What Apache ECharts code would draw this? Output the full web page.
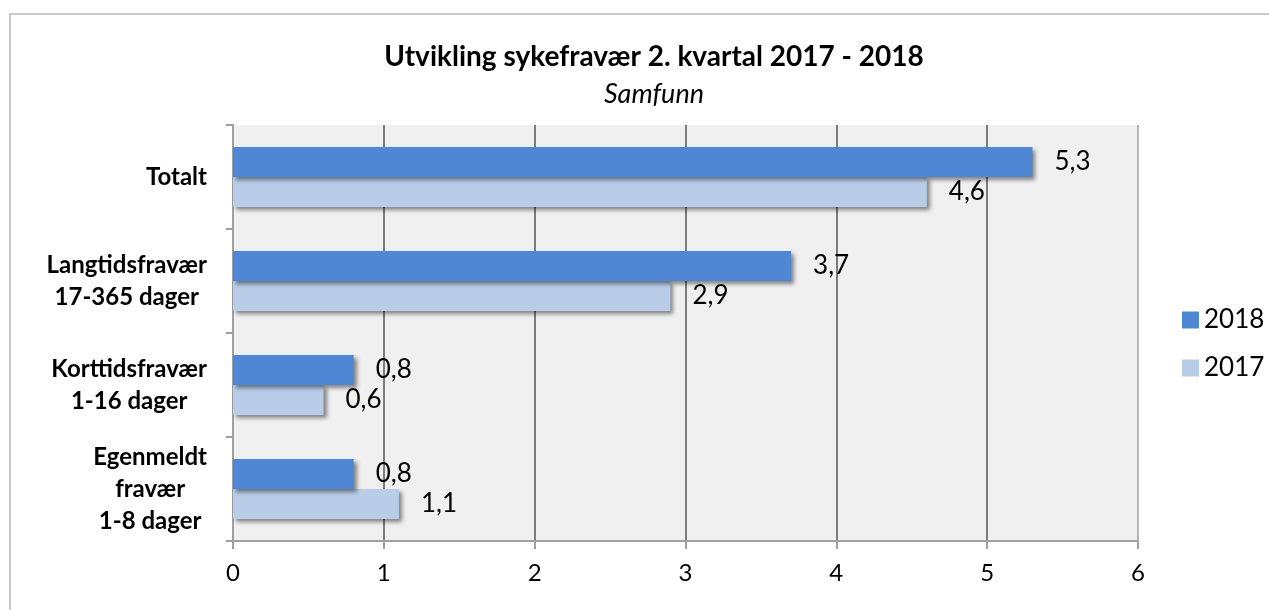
<!DOCTYPE html>
<html>
<head>
<meta charset="utf-8">
<script src="https://cdn.jsdelivr.net/npm/echarts@6/dist/echarts.min.js"></script>
<style>
  html, body { margin: 0; padding: 0; background: #fff; }
  #chart { width: 1269px; height: 610px; }
</style>
</head>
<body>
<div id="chart"></div>
<script>
  // kategorier, ovenfra og ned
  var categories = [
    'Totalt',
    'Langtidsfravær\n17-365 dager',
    'Korttidsfravær\n1-16 dager',
    'Egenmeldt\nfravær\n1-8 dager'
  ]
  var values2018 = [5.3, 3.7, 0.8, 0.8]
  var values2017 = [4.6, 2.9, 0.6, 1.1]
  var xTicks = { min: 0, max: 6, interval: 1 }

  var font = 'Lato, "Open Sans", sans-serif'
  var fmt = function (p) { return String(p.value).replace('.', ',') }
  var barShadow = {
    shadowColor: 'rgba(0, 0, 0, 0.45)',
    shadowBlur: 4,
    shadowOffsetX: 3,
    shadowOffsetY: 3
  }

  var chart = echarts.init(document.getElementById('chart'))
  var option = {
    animation: false,
    backgroundColor: '#fff',
    textStyle: { fontFamily: font },
    graphic: [{
      type: 'rect',
      shape: { x: 10, y: 14, width: 1300, height: 700 },
      style: { fill: 'none', stroke: '#b8b8b8', lineWidth: 1.5 },
      z: -1
    }],
    title: {
      text: 'Utvikling sykefravær 2. kvartal 2017 - 2018',
      subtext: 'Samfunn',
      left: 649,
      textAlign: 'center',
      top: 38,
      itemGap: 10,
      textStyle: { fontFamily: font, fontSize: 28, fontWeight: 'bold', color: '#000' },
      subtextStyle: { fontFamily: font, fontSize: 27, fontStyle: 'italic', color: '#000' }
    },
    legend: {
      orient: 'vertical',
      left: 1177,
      top: 302,
      itemWidth: 17,
      itemHeight: 17,
      itemGap: 22,
      icon: 'rect',
      textStyle: { fontFamily: font, fontSize: 26, color: '#000', padding: [0, 0, 0, 0] },
      data: ['2018', '2017']
    },
    grid: {
      left: 233,
      right: 131,
      top: 125,
      bottom: 69,
      show: true,
      backgroundColor: '#f0f0f0',
      borderWidth: 0
    },
    xAxis: {
      type: 'value',
      min: xTicks.min,
      max: xTicks.max,
      interval: xTicks.interval,
      axisLine: { show: true, lineStyle: { color: '#a0a0a0', width: 2 } },
      axisTick: { show: true, length: 8, lineStyle: { color: '#a0a0a0', width: 2 } },
      axisLabel: { margin: 20, fontSize: 24, color: '#000', fontFamily: font },
      splitLine: {
        show: true,
        lineStyle: {
          color: ['#a0a0a0', '#555', '#555', '#555', '#555', '#555', '#a0a0a0'],
          width: 1.5
        }
      }
    },
    yAxis: {
      type: 'category',
      inverse: true,
      data: categories,
      axisLine: { show: true, lineStyle: { color: '#a0a0a0', width: 2 } },
      axisTick: { show: true, length: 7, lineStyle: { color: '#a0a0a0', width: 2 } },
      axisLabel: {
        margin: 26,
        formatter: function (v) {
          return v.split('\n').map(function (s) { return '{c|' + s + '}' }).join('\n')
        },
        rich: {
          c: {
            align: 'center',
            fontFamily: font,
            fontSize: 24,
            fontWeight: 'bold',
            color: '#000',
            lineHeight: 32
          }
        }
      }
    },
    series: [
      {
        name: '2018',
        type: 'bar',
        data: values2018,
        barWidth: 30,
        barGap: '0%',
        itemStyle: Object.assign({ color: '#4f87d4' }, barShadow),
        label: {
          show: true,
          position: 'right',
          distance: 22,
          formatter: fmt,
          fontFamily: font,
          fontSize: 26,
          color: '#000'
        },
        z: 3
      },
      {
        name: '2017',
        type: 'bar',
        data: values2017,
        barWidth: 30,
        barGap: '0%',
        itemStyle: Object.assign({ color: '#b9cde8' }, barShadow),
        label: {
          show: true,
          position: 'right',
          distance: 22,
          formatter: fmt,
          fontFamily: font,
          fontSize: 26,
          color: '#000'
        },
        z: 2
      }
    ]
  }
  chart.setOption(option)
  window.addEventListener('resize', function () {
    chart.resize()
  })
</script>
</body>
</html>
